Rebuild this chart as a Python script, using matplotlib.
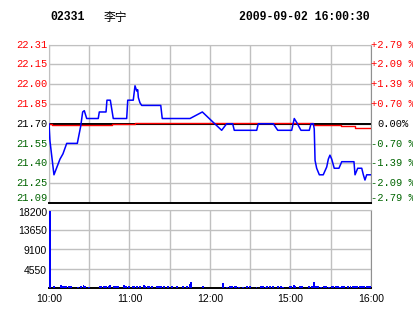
import matplotlib
matplotlib.use("Agg")
import matplotlib.pyplot as plt
import matplotlib.transforms as mtransforms

# header
code = "02331"
name = "李宁"
stamp = "2009-09-02 16:00:30"
prev_close = 21.70

# price scale: percent change from previous close
pct_levels = [-2.79, -2.09, -1.39, -0.70, 0.00, 0.70, 1.39, 2.09, 2.79]
price_labels = ["21.09", "21.25", "21.40", "21.55", "21.70", "21.85", "22.00", "22.15", "22.31"]
pct_labels = ["-2.79 %", "-2.09 %", "-1.39 %", "-0.70 %", "0.00%",
              "+0.70 %", "+1.39 %", "+2.09 %", "+2.79 %"]

# trading minutes since 10:00 (lunch break squeezed out)
time_ticks = [0, 60, 120, 180, 240]
time_labels = ["10:00", "11:00", "12:00", "15:00", "16:00"]

# last price
price_t = [0, 0.7, 3, 3.7, 8.2, 10.4, 13.2, 21.1, 23.6, 25.1, 26.3, 28.1, 36.7, 37.5,
           42.5, 43.2, 45.7, 47.9, 57.9, 58.7, 62.8, 64.1, 65.4, 66.1, 66.6, 67.8,
           69.1, 83.3, 84.4, 105.1, 114.3, 122.5, 128.7, 132.4, 136.9, 138.1, 154.8,
           156.0, 167.2, 170.5, 180.9, 182.8, 184.6, 187.8, 194.0, 195.3, 197.0, 197.7,
           198.3, 199.5, 201.5, 204.4, 207.0, 208.2, 209.4, 210.7, 212.6, 216.1, 218.2,
           227.3, 228.1, 230.1, 233.1, 234.3, 235.5, 236.8, 240]
price = [21.70, 21.57, 21.37, 21.31, 21.43, 21.47, 21.55, 21.55, 21.68, 21.79, 21.80,
         21.74, 21.74, 21.79, 21.79, 21.88, 21.88, 21.74, 21.74, 21.88, 21.88, 21.99,
         21.95, 21.96, 21.90, 21.86, 21.84, 21.84, 21.74, 21.74, 21.79, 21.71, 21.65,
         21.70, 21.70, 21.65, 21.65, 21.70, 21.70, 21.65, 21.65, 21.74, 21.71, 21.65,
         21.65, 21.70, 21.70, 21.66, 21.42, 21.36, 21.31, 21.31, 21.37, 21.43, 21.46,
         21.43, 21.36, 21.36, 21.41, 21.41, 21.31, 21.36, 21.36, 21.31, 21.27, 21.31,
         21.31]

# average price
avg_t = [0, 2, 47, 64, 197, 218, 228, 240]
avg = [21.70, 21.688, 21.696, 21.705, 21.69, 21.68, 21.665, 21.665]

# volume per minute
vol_t = [0, 3, 8, 10, 11, 12, 14, 16, 21, 23, 25, 26, 29, 37, 38, 40, 42, 44, 45, 48, 49,
         51, 55, 57, 59, 62, 63, 65, 67, 70, 71, 73, 74, 76, 80, 81, 82, 83, 85, 88, 91,
         95, 99, 102, 104, 105, 114, 129, 132, 134, 136, 138, 139, 141, 144, 147, 149,
         154, 157, 159, 161, 162, 164, 166, 170, 172, 174, 179, 180, 182, 183, 186, 187,
         188, 193, 195, 197, 198, 200, 202, 204, 206, 208, 210, 211, 213, 215, 216, 218,
         219, 222, 224, 226, 227, 228, 229, 231, 232, 233, 234, 236, 237, 238, 239]
vol = [18000, 400, 650, 450, 500, 450, 500, 450, 350, 500, 600, 450, 350, 400, 500, 450,
       550, 400, 600, 400, 500, 550, 750, 400, 450, 400, 550, 500, 450, 600, 400, 500,
       450, 500, 400, 450, 500, 450, 500, 450, 500, 400, 450, 400, 1000, 1400, 450, 1200,
       350, 500, 450, 400, 450, 300, 350, 450, 450, 350, 400, 450, 350, 450, 400, 450,
       400, 450, 350, 500, 450, 600, 450, 400, 550, 450, 400, 500, 1400, 500, 450, 350,
       450, 400, 350, 450, 500, 400, 450, 350, 450, 500, 450, 400, 500, 450, 400, 500,
       450, 500, 400, 450, 500, 450, 550, 500]
vol_ticks = [4550, 9100, 13650, 18200]

RED = "#FF0000"
GREEN = "#006400"
GRID = "#C0C0C0"
mono = "Liberation Mono"

fig = plt.figure(figsize=(4.14, 3.14), dpi=100)

fig.text(50 / 414, 1 - 17 / 314, code, fontfamily=mono, fontweight="bold",
         fontsize=8.3, va="center")
fig.text(104 / 414, 1 - 17 / 314, name, fontfamily="Noto Sans CJK SC",
         fontsize=8.5, va="center")
fig.text(370 / 414, 1 - 17 / 314, stamp, fontfamily=mono, fontweight="bold",
         fontsize=8.3, va="center", ha="right")


def shift(ax, dy_px):
    return mtransforms.offset_copy(
        mtransforms.blended_transform_factory(ax.transAxes, ax.transData),
        fig=fig, y=dy_px, units="dots")


# price chart
ax = fig.add_axes([49 / 414, 1 - 203 / 314, 322 / 414, 158.5 / 314])
levels = [prev_close * (1 + p / 100) for p in pct_levels]
ax.axhline(prev_close, color="black", lw=1.4, zorder=2)
ax.step(avg_t, avg, where="post", color=RED, lw=1, zorder=3)
ax.plot(price_t, price, color="#0000FF", lw=1.1, zorder=4)
ax.set_xlim(0, 240)
ax.set_ylim(levels[0], levels[-1])
ax.set_xticks(range(0, 241, 30))
ax.set_xticklabels([])
ax.set_yticks(levels)
ax.set_yticklabels([])
ax.tick_params(length=0)
ax.grid(color=GRID, lw=1)
ax.set_axisbelow(True)
for side in ["left", "top"]:
    ax.spines[side].set_color(GRID)
ax.spines["right"].set_color("#909090")
ax.spines["bottom"].set_color("black")
ax.spines["bottom"].set_linewidth(1.4)

for i, (lv, lab, plab, p) in enumerate(zip(levels, price_labels, pct_labels, pct_levels)):
    c = RED if p > 0 else (GREEN if p < 0 else "black")
    dy = 5 if i == 0 else (-1 if i == len(levels) - 1 else 0)
    tr = shift(ax, dy)
    ax.text(-0.006, lv, lab, transform=tr, ha="right", va="center", color=c,
            fontfamily=mono, fontsize=7.5, clip_on=False)
    ax.text(1.068, lv, plab, transform=tr, ha="center", va="center", color=c,
            fontfamily=mono, fontsize=7.5, clip_on=False)

# volume chart
vax = fig.add_axes([49 / 414, 1 - 288 / 314, 322 / 414, 78 / 314])
vax.bar(vol_t, vol, width=1.4, align="edge", color="#0000FF", lw=0, zorder=3)
vax.set_xlim(0, 240)
vax.set_ylim(0, vol_ticks[-1])
vax.set_yticks(vol_ticks)
vax.set_yticklabels([])
grid_ticks = list(range(0, 241, 30))
vax.set_xticks(grid_ticks)
vax.set_xticklabels([time_labels[time_ticks.index(t)] if t in time_ticks else ""
                     for t in grid_ticks], fontfamily="Liberation Sans", fontsize=7.5)
vax.tick_params(length=0)
vax.tick_params(axis="x", pad=4.5)
for v in vol_ticks:
    vax.text(-0.006, v, str(v), transform=shift(vax, -3 if v == vol_ticks[-1] else -2),
             ha="right", va="center", fontfamily="Liberation Sans", fontsize=7.5,
             clip_on=False)
vax.grid(color=GRID, lw=1)
vax.set_axisbelow(True)
for side in ["left", "top"]:
    vax.spines[side].set_color(GRID)
vax.spines["right"].set_color("#909090")
vax.spines["bottom"].set_color("black")
vax.spines["bottom"].set_linewidth(1.4)

fig.savefig("out.png", dpi=100)
